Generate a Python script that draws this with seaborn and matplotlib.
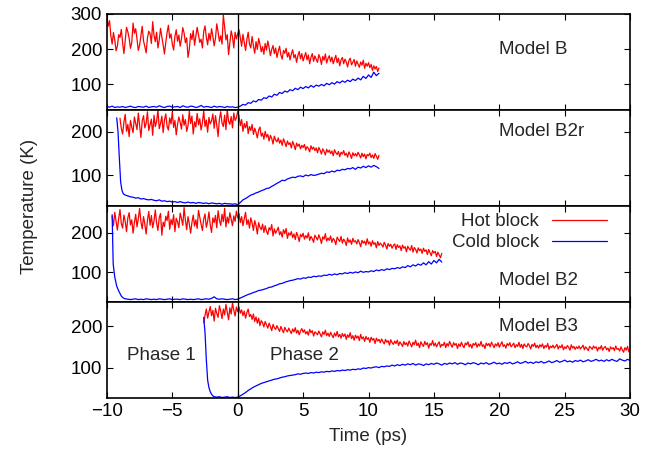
import numpy as np
import pandas as pd
import seaborn as sns
import matplotlib.pyplot as plt

# sampling steps of the traces (ps)
hot_dt = 0.1
cold_dt = 0.2

# ---- Model B ----
hot_b_start = -10.0
hot_b = [292, 265, 281, 238, 214, 247, 226, 195, 208, 241,
         233, 256, 218, 187, 224, 262, 249, 231, 202, 219,
         274, 245, 258, 229, 196, 211, 238, 265, 223, 207,
         189, 232, 251, 244, 216, 278, 239, 221, 248, 203,
         226, 259, 234, 212, 186, 219, 247, 268, 231, 243,
         214, 197, 236, 255, 222, 240, 208, 229, 261, 246,
         218, 232, 176, 199, 244, 227, 253, 211, 237, 262,
         241, 219, 228, 203, 250, 266, 234, 212, 245, 225,
         258, 236, 209, 231, 272, 249, 222, 238, 214, 297,
         263, 226, 241, 184, 217, 252, 235, 203, 248, 229,
         244,
         255, 231, 208, 242, 219, 196, 227, 248, 214, 203,
         236, 209, 188, 221, 199, 230, 214, 192, 207, 185,
         216, 197, 223, 204, 181, 199, 210, 187, 203, 176,
         194, 208, 183, 171, 196, 188, 202, 177, 190, 169,
         186, 198, 175, 184, 162, 181, 193, 172, 187, 166,
         178, 190, 169, 183, 158, 176, 187, 165, 180, 171,
         162, 184, 175, 156, 179, 168, 186, 160, 173, 181,
         164, 177, 158, 170, 182, 161, 174, 152, 169, 176,
         158, 171, 163, 149, 167, 174, 155, 162, 170, 151,
         166, 157, 148, 163, 154, 168, 145, 159, 151, 161,
         147, 156, 139, 152, 143, 150, 136, 146]
cold_b_start = -10.0
cold_b = [36, 34, 37, 33, 35, 34, 36, 33, 35, 37,
          34, 33, 36, 35, 34, 37, 33, 35, 36, 34,
          38, 35, 33, 36, 37, 34, 35, 36, 33, 38,
          35, 34, 37, 36, 33, 35, 39, 34, 36, 35,
          33, 37, 34, 36, 35, 33, 36, 34, 35, 33,
          34,
          37, 42, 40, 47, 45, 52, 49, 56, 54, 61,
          59, 66, 63, 71, 68, 76, 73, 80, 77, 84,
          81, 88, 84, 91, 87, 93, 89, 96, 91, 97,
          94, 99, 95, 102, 98, 104, 100, 107, 103, 109,
          105, 111, 107, 114, 110, 117, 112, 122, 116, 126,
          119, 134, 124, 131]

# ---- Model B2r ----
hot_b2r_start = -9.0
hot_b2r = [231, 208, 195, 222, 240, 201, 217, 189, 226, 211,
           198, 234, 219, 205, 243, 214, 187, 225, 237, 209,
           220, 246, 203, 216, 229, 192, 238, 212, 224, 250,
           207, 219, 236, 198, 227, 241, 213, 204, 232, 218,
           245, 210, 226, 193, 217, 234, 222, 206, 239, 215,
           228, 201, 214, 247, 219, 236, 195, 223, 211, 242,
           216, 230, 204, 221, 248, 212, 227, 199, 233, 218,
           225, 241, 208, 237, 215, 189, 229, 246, 220, 212,
           238, 205, 251, 224, 217, 235, 209, 243, 226, 232,
           247,
           236, 214, 228, 201, 219, 209, 224, 196, 212, 203,
           217, 194, 208, 199, 186, 204, 211, 190, 197, 183,
           201, 188, 194, 179, 192, 185, 172, 190, 181, 177,
           186, 174, 181, 169, 184, 176, 166, 179, 171, 175,
           163, 178, 170, 159, 174, 167, 172, 161, 169, 164,
           171, 158, 166, 162, 154, 168, 160, 165, 157, 163,
           152, 164, 158, 149, 161, 155, 147, 160, 153, 158,
           150, 156, 145, 159, 152, 148, 155, 143, 153, 149,
           157, 146, 151, 142, 154, 148, 139, 152, 145, 150,
           144, 153, 147, 140, 151, 143, 149, 138, 148, 145,
           151, 141, 147, 139, 150, 144, 137, 146]
cold_b2r_drop_t = [-9.25, -9.15, -9.05, -8.95, -8.85, -8.75]
cold_b2r_drop = [232, 200, 140, 85, 66, 58]
cold_b2r_start = -8.6
cold_b2r = [55, 53, 51, 50, 48, 49, 46, 47, 45, 44,
            45, 43, 42, 44, 41, 42, 40, 41, 39, 40,
            38, 40, 38, 37, 39, 37, 38, 36, 38, 37,
            36, 37, 35, 37, 36, 35, 36, 34, 36, 35,
            35, 34, 35, 33,
            38, 44, 47, 51, 55, 57, 60, 62, 65, 67,
            70, 71, 75, 78, 82, 85, 89, 88, 92, 94,
            96, 95, 98, 99, 97, 101, 99, 102, 100, 101,
            103, 105, 104, 108, 107, 110, 108, 112, 111, 114,
            113, 116, 115, 118, 114, 119, 117, 121, 118, 122,
            119, 123, 120, 116]

# ---- Model B2 ----
hot_b2_start = -9.6
hot_b2 = [241, 218, 252, 230, 207, 236, 259, 224, 212, 245,
          229, 203, 238, 251, 220, 233, 199, 226, 247, 215,
          236, 262, 228, 210, 241, 222, 197, 232, 254, 219,
          244, 213, 230, 258, 225, 206, 238, 249, 194, 227,
          216, 242, 231, 255, 209, 234, 221, 246, 203, 237,
          228, 213, 250, 236, 219, 264, 232, 208, 241, 223,
          199, 226, 245, 217, 233, 211, 257, 239, 222, 206,
          235, 248, 214, 229, 253, 220, 201, 238, 226, 244,
          213, 256, 232, 219, 247, 228, 262, 215, 240, 225,
          251, 234, 218, 243, 229, 255, 238,
          249, 226, 241, 218, 236, 252, 221, 233, 212, 238,
          225, 206, 231, 219, 197, 226, 214, 208, 222, 201,
          218, 204, 196, 213, 207, 221, 192, 210, 199, 206,
          214, 195, 203, 189, 208, 198, 211, 186, 200, 194,
          203, 188, 197, 183, 201, 192, 178, 196, 190, 199,
          184, 193, 187, 200, 181, 191, 185, 176, 194, 188,
          182, 195, 186, 173, 190, 184, 198, 179, 187, 181,
          192, 176, 186, 181, 170, 189, 183, 178, 191, 174,
          184, 179, 168, 187, 176, 182, 171, 186, 177, 180,
          172, 183, 175, 165, 181, 174, 179, 169, 185, 172,
          177, 166, 180, 171, 175, 162, 178, 168, 174, 170,
          164, 176, 169, 159, 173, 166, 171, 161, 168, 172,
          158, 170, 163, 167, 155, 169, 161, 165, 152, 166,
          160, 156, 168, 151, 163, 158, 149, 162, 155, 159,
          148, 161, 153, 157, 145, 158, 150, 142, 155, 149,
          153, 140, 151, 144, 137, 148]
cold_b2_drop_t = [-9.6, -9.52, -9.4, -9.25, -9.1, -8.9, -8.75]
cold_b2_drop = [246, 121, 88, 65, 53, 40, 35]
cold_b2_start = -8.6
cold_b2 = [33, 32, 31, 32, 33, 31, 32, 31, 33, 32,
           31, 32, 31, 33, 32, 31, 32, 33, 31, 32,
           32, 31, 33, 32, 31, 32, 31, 32, 33, 31,
           32, 33, 32, 34, 38, 33, 32, 33, 32, 31,
           32, 33, 31, 32,
           35, 38, 41, 44, 46, 49, 51, 54, 55, 57,
           59, 62, 63, 66, 68, 71, 72, 75, 77, 79,
           80, 82, 84, 83, 86, 85, 88, 87, 90, 89,
           91, 90, 93, 92, 95, 93, 96, 94, 97, 96,
           99, 97, 100, 98, 101, 99, 103, 100, 102, 101,
           104, 102, 106, 104, 107, 105, 109, 107, 110, 109,
           112, 110, 114, 112, 117, 114, 119, 116, 121, 118,
           124, 119, 127, 121, 130, 124, 133, 126]

# ---- Model B3 ----
hot_b3_start = -2.6
hot_b3 = [208, 226, 241, 219, 234, 247, 225, 238, 212, 243,
          230, 221, 249, 236, 218, 241, 227, 252, 233, 215,
          244, 229, 256, 238, 224, 246, 235,
          246, 231, 239, 225, 236, 219, 232, 241, 223, 228,
          216, 229, 211, 222, 207, 219, 201, 213, 208, 198,
          211, 203, 195, 207, 199, 189, 204, 196, 192, 201,
          194, 187, 199, 191, 184, 197, 190, 186, 195, 188,
          182, 193, 186, 196, 183, 190, 179, 188, 194, 185,
          191, 181, 187, 178, 192, 184, 189, 176, 186, 183,
          179, 188, 181, 174, 186, 180, 190, 177, 183, 175,
          185, 178, 172, 183, 176, 187, 174, 180, 171, 182,
          175, 181, 168, 179, 173, 184, 170, 177, 166, 178,
          171, 176, 165, 180, 169, 174, 163, 175, 168, 172,
          161, 173, 166, 170, 158, 171, 164, 168, 160, 169,
          163, 157, 168, 161, 165, 154, 167, 160, 156, 164,
          158, 166, 153, 162, 157, 151, 163, 155, 160, 152,
          164, 157, 150, 161, 155, 166, 153, 159, 148, 162,
          156, 151, 163, 155, 160, 147, 158, 154, 165, 152,
          159, 150, 157, 162, 149, 156, 153, 161, 148, 158,
          152, 163, 155, 149, 160, 154, 158, 146, 157, 151,
          161, 153, 148, 159, 155, 162, 150, 156, 147, 158,
          154, 160, 149, 157, 152, 163, 151, 155, 146, 159,
          153, 158, 150, 161, 155, 148, 157, 152, 160, 149,
          156, 162, 151, 155, 147, 158, 153, 160, 150, 154,
          159, 148, 155, 151, 161, 149, 156, 146, 157, 152,
          150, 158, 153, 145, 156, 151, 159, 148, 154, 147,
          155, 150, 157, 146, 153, 149, 158, 144, 152, 148,
          154, 147, 151, 156, 145, 152, 148, 155, 143, 150,
          146, 153, 149, 142, 155, 147, 151, 144, 150, 146,
          152, 145, 149, 154, 143, 150, 146, 141, 151, 148,
          144, 152, 147, 150, 140, 149, 145, 153, 142, 148,
          151, 143, 147, 139, 150, 145, 148, 141, 152, 144,
          146, 140, 150, 143, 137, 148, 142, 151, 138, 146]
cold_b3_drop_t = [-2.6, -2.5, -2.4, -2.3, -2.2, -2.1, -2.0, -1.9]
cold_b3_drop = [221, 185, 120, 70, 52, 42, 36, 32]
cold_b3_start = -1.8
cold_b3 = [30, 29, 30, 28, 29, 30, 28, 29, 28, 29,
           32, 36, 40, 45, 49, 53, 56, 59, 62, 64,
           66, 68, 70, 72, 73, 75, 77, 78, 80, 81,
           82, 83, 85, 84, 86, 87, 86, 88, 87, 89,
           88, 90, 89, 91, 90, 92, 91, 93, 92, 94,
           93, 95, 94, 96, 95, 97, 96, 99, 98, 100,
           99, 101, 102, 100, 103, 102, 104, 103, 106, 104,
           107, 105, 108, 106, 109, 107, 110, 106, 109, 108,
           105, 109, 107, 110, 108, 111, 109, 106, 110, 108,
           111, 109, 112, 108, 111, 110, 107, 111, 109, 112,
           110, 107, 111, 109, 112, 108, 110, 113, 109, 111,
           108, 112, 110, 113, 109, 111, 114, 110, 112, 115,
           111, 113, 110, 114, 112, 115, 111, 113, 116, 112,
           114, 117, 113, 115, 118, 114, 116, 113, 117, 115,
           118, 114, 116, 119, 115, 117, 120, 116, 118, 115,
           119, 116, 120, 117, 115, 121, 118, 116, 120, 117]

model_names = ['Model B', 'Model B2r', 'Model B2', 'Model B3']
name_temp = [200, 200, 80, 200]
y_limits = [(26, 300), (30, 250), (25, 268), (27, 258)]
y_ticks = [[100, 200, 300], [100, 200], [100, 200], [100, 200]]


def trace(start, step, vals, drop_t=None, drop_v=None):
    t = start + step * np.arange(len(vals))
    v = np.array(vals, dtype=float)
    if drop_t is not None:
        t = np.concatenate([drop_t, t])
        v = np.concatenate([drop_v, v])
    return t, v


panels = [
    (trace(hot_b_start, hot_dt, hot_b),
     trace(cold_b_start, cold_dt, cold_b)),
    (trace(hot_b2r_start, hot_dt, hot_b2r),
     trace(cold_b2r_start, cold_dt, cold_b2r, cold_b2r_drop_t, cold_b2r_drop)),
    (trace(hot_b2_start, hot_dt, hot_b2),
     trace(cold_b2_start, cold_dt, cold_b2, cold_b2_drop_t, cold_b2_drop)),
    (trace(hot_b3_start, hot_dt, hot_b3),
     trace(cold_b3_start, cold_dt, cold_b3, cold_b3_drop_t, cold_b3_drop)),
]

fs = 13.5
sns.set_style('ticks')
plt.rcParams['font.family'] = ['Liberation Sans', 'DejaVu Sans']
plt.rcParams['font.size'] = fs
plt.rcParams['axes.linewidth'] = 1.2
plt.rcParams['xtick.direction'] = 'in'
plt.rcParams['ytick.direction'] = 'in'
plt.rcParams['xtick.major.size'] = 4.5
plt.rcParams['ytick.major.size'] = 4.5
plt.rcParams['xtick.major.width'] = 0.8
plt.rcParams['ytick.major.width'] = 0.8
plt.rcParams['xtick.color'] = 'black'
plt.rcParams['ytick.color'] = 'black'

fig, axes = plt.subplots(4, 1, sharex=True, figsize=(6.64, 4.59), dpi=100)
fig.subplots_adjust(left=0.161, right=0.949, top=0.9695, bottom=0.133, hspace=0)

pal = {'Hot block': '#ff0000', 'Cold block': '#0000ff'}

for i, ax in enumerate(axes):
    (th, vh), (tc, vc) = panels[i]
    df = pd.concat([
        pd.DataFrame({'time': th, 'temp': vh, 'block': 'Hot block'}),
        pd.DataFrame({'time': tc, 'temp': vc, 'block': 'Cold block'}),
    ])
    sns.lineplot(data=df, x='time', y='temp', hue='block', palette=pal,
                 estimator=None, sort=False, lw=0.9, ax=ax, legend=(i == 2))
    ax.axvline(0, color='black', lw=0.9)
    ax.set_xlim(-10, 30)
    ax.set_ylim(*y_limits[i])
    ax.set_yticks(y_ticks[i])
    ax.set_xticks(range(-10, 31, 5))
    ax.tick_params(top=True, right=True, labelsize=fs)
    ax.set_xlabel('')
    ax.set_ylabel('')
    for s in ax.spines.values():
        s.set_color('black')
    ax.text(20, name_temp[i], model_names[i], va='center', ha='left', fontsize=fs)

sns.move_legend(axes[2], 'upper right', bbox_to_anchor=(0.955, 0.925), frameon=False,
                markerfirst=False, title=None, handlelength=2.9, handletextpad=0.7,
                labelspacing=0.2, borderpad=0, borderaxespad=0, fontsize=fs)

axes[3].text(-8.5, 130, 'Phase 1', va='center', ha='left', fontsize=fs)
axes[3].text(2.5, 130, 'Phase 2', va='center', ha='left', fontsize=fs)

fig.text(0.045, 0.551, 'Temperature (K)', rotation=90, va='center', ha='center', fontsize=fs)
fig.text(0.555, 0.048, 'Time (ps)', va='center', ha='center', fontsize=fs)

fig.savefig('out.png', dpi=100)
